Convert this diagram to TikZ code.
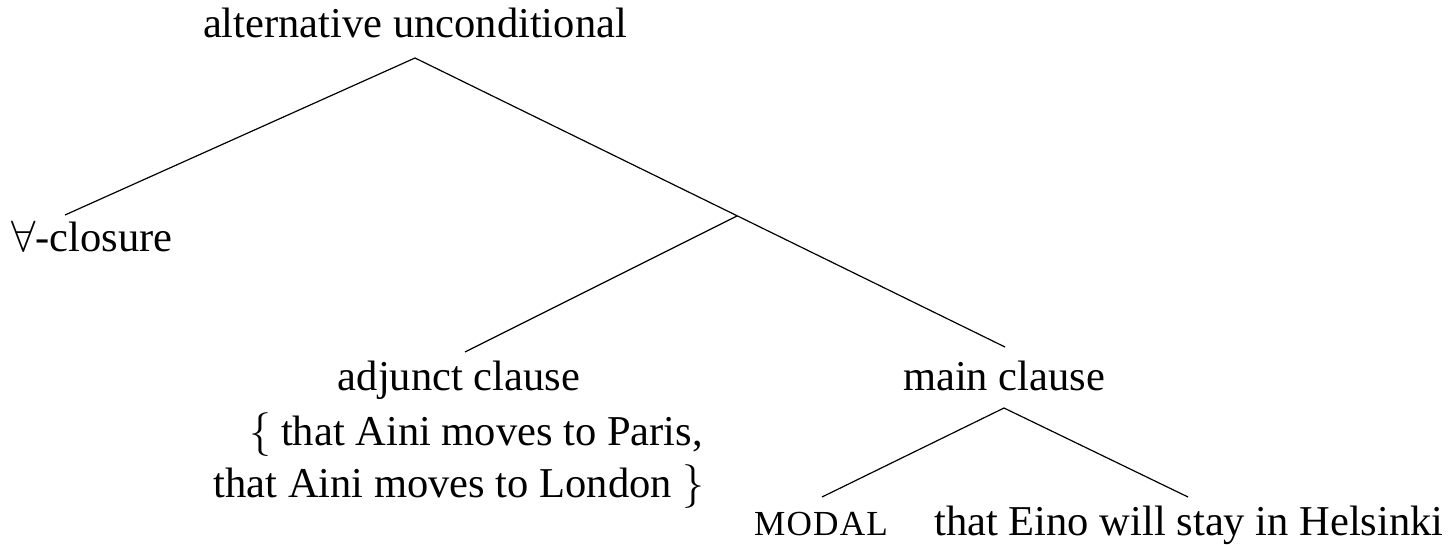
\documentclass[tikz,border=0pt]{standalone}
\usepackage{fontspec}
\setmainfont{Liberation Serif}
\begin{document}
\begin{tikzpicture}[x=0.25pt,y=-0.25pt,
  lbl/.style={anchor=base,inner sep=0pt,font=\fontsize{10.63}{12.75}\selectfont},
  edge/.style={line width=0.3pt,black}]
\useasboundingbox (0,0) rectangle (1455,545);
% labels
\node[lbl] (root) at (415,38) {alternative unconditional};
\node[lbl] (clos) at (92,252) {$\forall$-closure};
\node[lbl] (adj) at (459,390) {adjunct clause};
\node[lbl] (alt1) at (476,445) {$\{$\kern2.5pt that Aini moves to Paris,};
\node[lbl] (alt2) at (459,497) {that Aini moves to London $\}$};
\node[lbl] (main) at (1004,390) {main clause};
\node[lbl,font=\fontsize{8.8}{10}\selectfont] (modal) at (821,535) {M\kern0.3pt O\kern0.3pt D\kern0.3pt A\kern0.3pt L};
\node[lbl] (eino) at (1189,535) {that Eino will stay in Helsinki};
% branch points
\coordinate (rootb) at (415,58);
\coordinate (closT) at (65,215);
\coordinate (mainT) at (1005,347);
\coordinate (junc) at (737,216);
\coordinate (adjT) at (465,352);
\coordinate (mainb) at (1004,408);
\coordinate (modalT) at (822,497);
\coordinate (einoT) at (1188,497);
% connectors
\draw[edge] (rootb) -- (closT);
\draw[edge] (rootb) -- (mainT);
\draw[edge] (junc) -- (adjT);
\draw[edge] (mainb) -- (modalT);
\draw[edge] (mainb) -- (einoT);
\end{tikzpicture}
\end{document}
